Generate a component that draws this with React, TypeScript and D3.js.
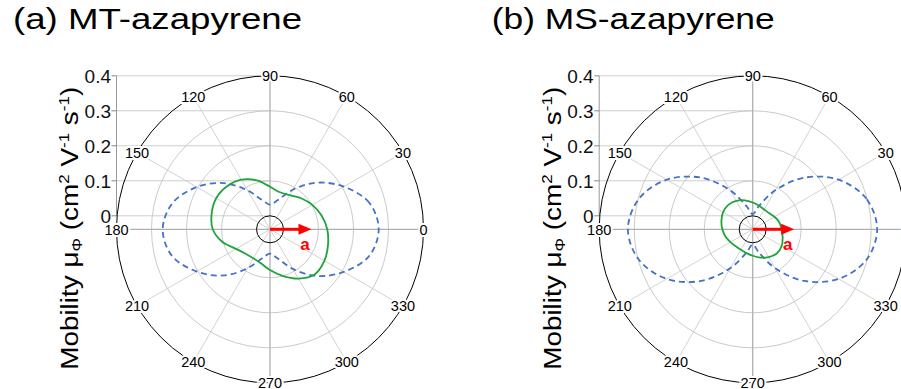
import React from 'react';
import * as d3 from 'd3';

// angles (deg) at which the mobility curves were read, every 15 deg
const angles = [0, 15, 30, 45, 60, 75, 90, 105, 120, 135, 150, 165, 180, 195, 210, 225, 240, 255, 270, 285, 300, 315, 330, 345];

// (a) MT-azapyrene
const mtBlue = [0.272, 0.255, 0.205, 0.15, 0.092, 0.048, 0.032, 0.048, 0.09, 0.148, 0.203, 0.25, 0.268, 0.252, 0.203, 0.148, 0.09, 0.047, 0.031, 0.048, 0.092, 0.15, 0.205, 0.255];
const mtGreen = [0.125, 0.114, 0.101, 0.087, 0.074, 0.071, 0.083, 0.106, 0.125, 0.135, 0.139, 0.134, 0.125, 0.102, 0.073, 0.06, 0.057, 0.062, 0.078, 0.099, 0.124, 0.143, 0.141, 0.133];

// (b) MS-azapyrene
const msBlue = [0.317, 0.298, 0.245, 0.17, 0.09, 0.03, 0.005, 0.03, 0.09, 0.17, 0.245, 0.298, 0.318, 0.298, 0.245, 0.17, 0.09, 0.03, 0.005, 0.03, 0.09, 0.17, 0.245, 0.298];
const msGreen = [0.044, 0.04, 0.033, 0.027, 0.027, 0.031, 0.038, 0.047, 0.055, 0.06, 0.059, 0.054, 0.048, 0.042, 0.035, 0.03, 0.029, 0.032, 0.037, 0.045, 0.053, 0.059, 0.057, 0.05];

const angleTicks = [0, 30, 60, 90, 120, 150, 180, 210, 240, 270, 300, 330];
const radialTicks = [0, 0.1, 0.2, 0.3, 0.4];
const radialTickLabels = ['0', '0.1', '0.2', '0.3', '0.4'];
const axisArrowValue = 0.08; // red "a" arrow length on the radial scale

const W = 901;
const H = 389;
const CY = 229.3;
const FONT = '"Liberation Sans", Arial, sans-serif';

const r = d3.scaleLinear().domain([0, 0.4]).range([13.5, 153.5]);
const toRad = (deg: number) => (deg * Math.PI) / 180;

const radial = d3
  .lineRadial<number>()
  .angle((_, i) => Math.PI / 2 - toRad(angles[i]))
  .radius(d => r(d))
  .curve(d3.curveCatmullRomClosed.alpha(0.5));

interface PanelProps {
  cx: number;
  title: string;
  titleX: number;
  titleLen: number;
  blue: number[];
  green: number[];
}

const Panel = ({ cx, title, titleX, titleLen, blue, green }: PanelProps) => {
  const rOuter = r(0.4);
  const axisX = cx - rOuter;
  const y = (v: number) => CY - r(v);
  const labelX = cx - 192;
  const tip = r(axisArrowValue);

  return (
    <g>
      <text x={titleX} y={28.5} fontSize={30} fontFamily={FONT} fill="#000" textLength={titleLen} lengthAdjust="spacingAndGlyphs">
        {title}
      </text>

      {/* rectangular radial axis on the left */}
      {radialTicks.map(t => (
        <line key={'g' + t} x1={axisX} x2={cx} y1={y(t)} y2={y(t)} stroke="#c8c8c8" strokeWidth={0.9} />
      ))}

      {/* rings */}
      {radialTicks.slice(1, 4).map(t => (
        <circle key={'c' + t} cx={cx} cy={CY} r={r(t)} fill="none" stroke="#c4c4c4" strokeWidth={0.9} />
      ))}

      {/* spokes */}
      {angleTicks.map(a => {
        const main = a % 90 === 0;
        return (
          <line
            key={'s' + a}
            x1={cx}
            y1={CY}
            x2={cx + rOuter * Math.cos(toRad(a))}
            y2={CY - rOuter * Math.sin(toRad(a))}
            stroke={main ? '#b0b0b0' : '#c8c8c8'}
            strokeWidth={main ? 1.3 : 0.8}
          />
        );
      })}

      <line x1={axisX} x2={axisX} y1={y(0.4)} y2={y(0)} stroke="#999" strokeWidth={1} />
      {radialTicks.map(t => (
        <line key={'t' + t} x1={axisX - 5} x2={axisX} y1={y(t)} y2={y(t)} stroke="#888" strokeWidth={1} />
      ))}
      {radialTicks.map((t, i) => (
        <text key={'l' + t} x={axisX - 5.5} y={y(t)} dy="0.36em" textAnchor="end" fontSize={19} fontFamily={FONT} fill="#111">
          {radialTickLabels[i]}
        </text>
      ))}

      <circle cx={cx} cy={CY} r={r(0)} fill="none" stroke="#000" strokeWidth={1} />

      <path d={radial(blue) || ''} transform={`translate(${cx},${CY})`} fill="none" stroke="#4472C4" strokeWidth={1.8} strokeDasharray="6 4" />
      <path d={radial(green) || ''} transform={`translate(${cx},${CY})`} fill="none" stroke="#1fa33c" strokeWidth={1.8} />

      <circle cx={cx} cy={CY} r={rOuter} fill="none" stroke="#000" strokeWidth={1} />

      {angleTicks.map(a => (
        <text
          key={'a' + a}
          x={cx + rOuter * Math.cos(toRad(a))}
          y={CY - rOuter * Math.sin(toRad(a))}
          dy="0.36em"
          textAnchor="middle"
          fontSize={14.5}
          fontFamily={FONT}
          fill="#000"
          stroke="#fff"
          strokeWidth={4}
          paintOrder="stroke"
        >
          {a}
        </text>
      ))}

      {/* crystal a axis */}
      <line x1={cx} y1={CY} x2={cx + tip - 11} y2={CY} stroke="#f00" strokeWidth={3} />
      <path d={`M${cx + tip},${CY} L${cx + tip - 13},${CY - 5.5} L${cx + tip - 13},${CY + 5.5} Z`} fill="#f00" />
      <text x={cx + 35} y={CY + 21} textAnchor="middle" fontSize={17} fontWeight="bold" fontFamily={FONT} fill="#f00">
        a
      </text>

      <text transform={`translate(${labelX},${CY - 1}) rotate(-90)`} textAnchor="middle" fontSize={23} fontFamily={FONT} fill="#000" textLength={283} lengthAdjust="spacingAndGlyphs">
        Mobility μ<tspan fontSize={14} dy={4}>Φ</tspan>
        <tspan dy={-4}> (cm</tspan>
        <tspan fontSize={14} dy={-9}>2</tspan>
        <tspan dy={9}> V</tspan>
        <tspan fontSize={14} dy={-9}>-1</tspan>
        <tspan dy={9}> s</tspan>
        <tspan fontSize={14} dy={-9}>-1</tspan>
        <tspan dy={9}>)</tspan>
      </text>
    </g>
  );
};

export default function App() {
  return (
    <svg width={W} height={H} style={{ position: 'absolute', left: 0, top: 0, background: '#fff' }}>
      <Panel cx={270} title="(a) MT-azapyrene" titleX={13} titleLen={289} blue={mtBlue} green={mtGreen} />
      <Panel cx={752.7} title="(b) MS-azapyrene" titleX={491.7} titleLen={283} blue={msBlue} green={msGreen} />
    </svg>
  );
}
